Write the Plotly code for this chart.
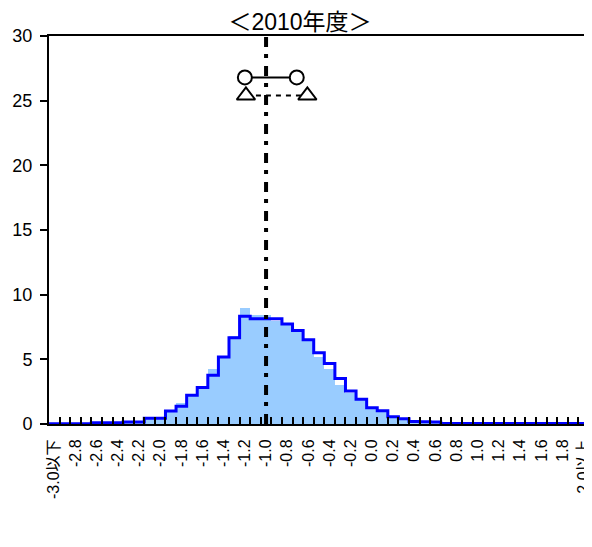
import numpy as np
import plotly.graph_objects as go

# bin centres (-3.0 ... 2.0, step 0.1)
bin_centers = [round(v / 10, 1) for v in range(-30, 21)]

# light-blue histogram (bars)
bar_values = [0.02, 0.02, 0.02, 0.02, 0.1, 0.1, 0.1, 0.1, 0.1, 0.5,
              0.5, 1.08, 1.6, 2.2, 2.8, 4.23, 5.2, 6.8, 9.0, 8.44,
              8.46, 8.0, 7.7, 7.36, 6.6, 5.18, 4.23, 3.0, 2.36, 1.85,
              1.2, 1.0, 0.6, 0.38, 0.3, 0.15, 0.1, 0.03, 0.03, 0.03,
              0.03, 0.03, 0.03, 0.03, 0.03, 0.03, 0.03, 0.03, 0.03, 0.03,
              0.03]

# blue step line
line_values = [0.02, 0.02, 0.02, 0.02, 0.1, 0.1, 0.1, 0.15, 0.15, 0.44,
               0.44, 1.0, 1.38, 2.23, 2.82, 3.77, 5.18, 6.67, 8.33, 8.13,
               8.13, 8.13, 7.74, 7.23, 6.51, 5.51, 4.67, 3.51, 2.56, 1.92,
               1.26, 1.03, 0.56, 0.4, 0.2, 0.18, 0.15, 0.04, 0.04, 0.04,
               0.04, 0.04, 0.04, 0.04, 0.04, 0.04, 0.04, 0.04, 0.04, 0.04,
               0.04]

tick_positions = [round(v / 10, 1) for v in range(-30, 21, 2)]
tick_labels = ["-3.0以下", "-2.8", "-2.6", "-2.4", "-2.2", "-2.0", "-1.8", "-1.6",
               "-1.4", "-1.2", "-1.0", "-0.8", "-0.6", "-0.4", "-0.2", "0.0",
               "0.2", "0.4", "0.6", "0.8", "1.0", "1.2", "1.4", "1.6", "1.8",
               "2.0以上"]

mean_value = -1.0
circle_x = [-1.20, -0.71]
circle_y = [26.8, 26.8]
triangle_x = [-1.19, -0.61]
triangle_y = [25.4, 25.4]

title_text = "＜2010年度＞"

step = 0.1
boundaries = [round(c - step / 2, 2) for c in bin_centers] + [round(bin_centers[-1] + step / 2, 2)]

FONT = "Liberation Sans, Arial, Noto Sans CJK JP"

# the page body has an 8px margin; the figure is sized to fill the rest
W, H = 584, 539

fig = go.Figure()
fig.add_trace(go.Bar(x=bin_centers, y=bar_values, width=step,
                     marker=dict(color="#99CCFF", line=dict(width=0)),
                     showlegend=False))
fig.add_trace(go.Scatter(x=boundaries, y=line_values + [line_values[-1]],
                         mode="lines", line=dict(color="#0000FF", width=3, shape="hv"),
                         showlegend=False))
fig.add_shape(type="line", x0=mean_value, x1=mean_value, y0=0, y1=30,
              xref="x", yref="y",
              line=dict(color="black", width=4, dash="10px,8px,4px,7px"))
fig.add_trace(go.Scatter(x=triangle_x, y=triangle_y, mode="lines+markers",
                         line=dict(color="black", width=2, dash="5px,5px"),
                         marker=dict(symbol="triangle-up", size=16, color="white",
                                     line=dict(color="black", width=2)),
                         showlegend=False))
fig.add_trace(go.Scatter(x=circle_x, y=circle_y, mode="lines+markers",
                         line=dict(color="black", width=2),
                         marker=dict(symbol="circle", size=14, color="white",
                                     line=dict(color="black", width=2)),
                         showlegend=False))

fig.update_layout(
    width=W, height=H,
    margin=dict(l=41, r=3, t=28, b=123, autoexpand=False),
    paper_bgcolor="white", plot_bgcolor="white",
    bargap=0,
    title=dict(text=title_text, x=(300 - 8) / W, xref="container", xanchor="center",
               y=1 - 14 / H, yref="container", yanchor="middle",
               font=dict(family=FONT, size=23, color="black")),
    font=dict(family=FONT, color="black"),
)
fig.update_xaxes(
    range=[boundaries[0], boundaries[-1]],
    tickmode="array", tickvals=tick_positions, ticktext=tick_labels,
    tickangle=-90, ticks="inside", ticklen=0,
    tickfont=dict(family=FONT, size=16, color="black"),
    ticklabelstandoff=7,
    minor=dict(tickmode="array", tickvals=boundaries, ticks="inside",
               ticklen=7, tickwidth=2, tickcolor="black", showgrid=False),
    showline=True, linecolor="black", linewidth=2, mirror=True,
    showgrid=False, zeroline=False, automargin=False,
)
fig.update_yaxes(
    range=[0, 30], tickmode="linear", tick0=0, dtick=5,
    ticks="outside", ticklen=7, tickwidth=2, tickcolor="black",
    tickfont=dict(family=FONT, size=18, color="black"),
    ticklabelstandoff=4,
    showline=True, linecolor="black", linewidth=2, mirror=True,
    showgrid=False, zeroline=False, automargin=False,
)

fig.write_html("out.html")
